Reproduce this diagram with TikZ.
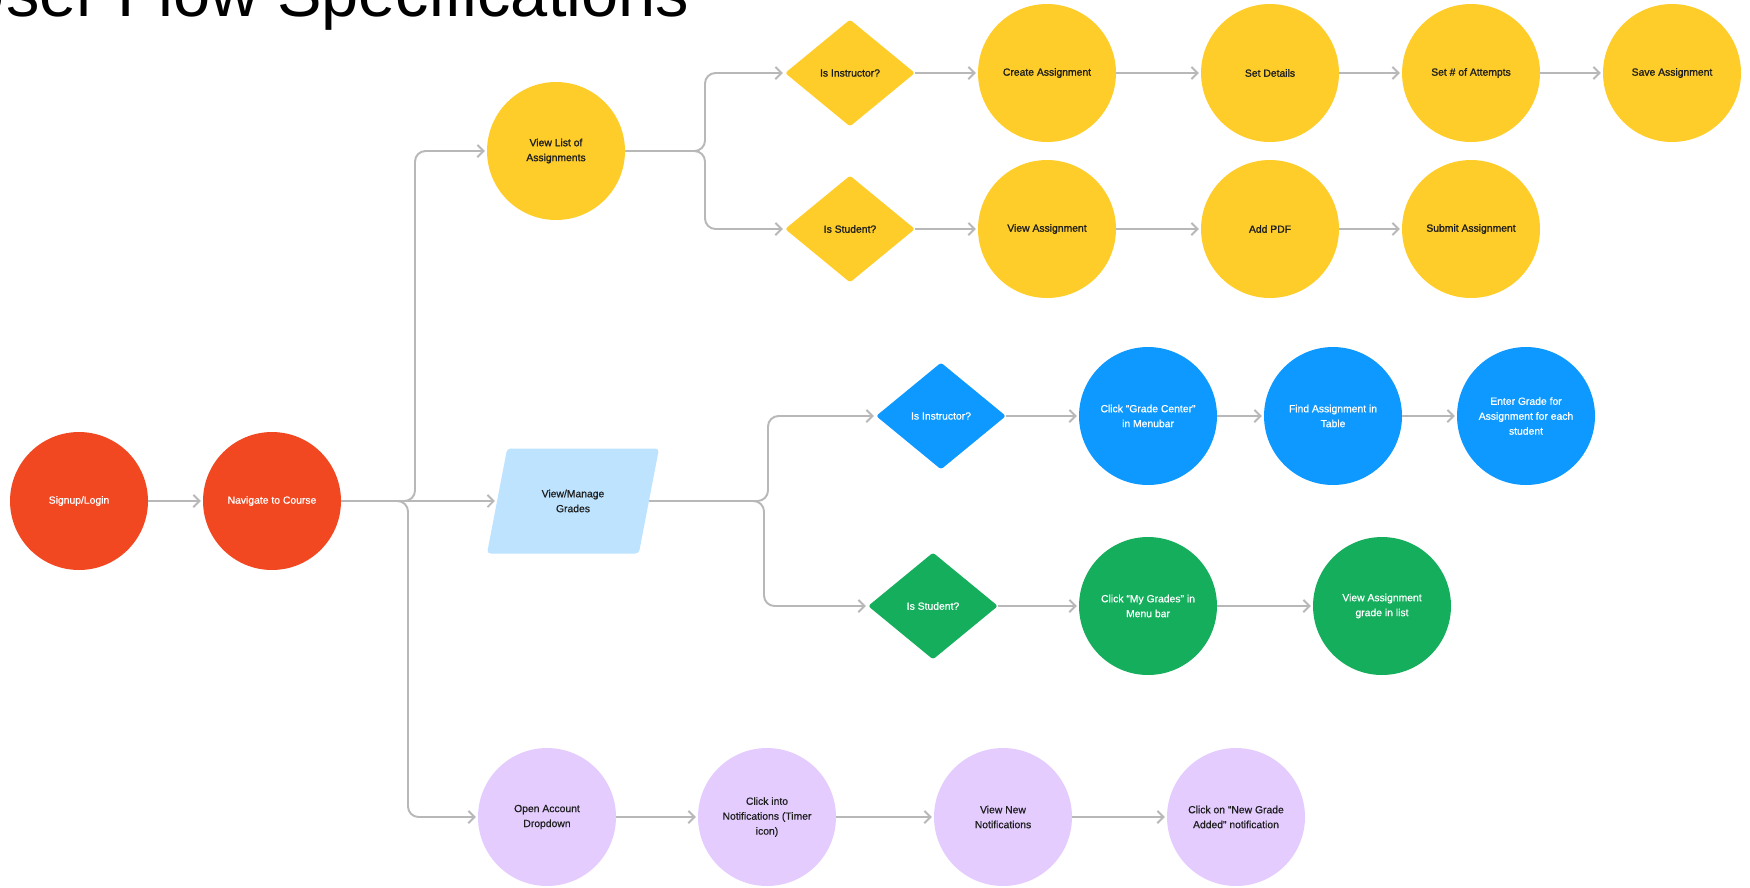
\documentclass[tikz,border=0pt]{standalone}
\usepackage{fontspec}
\setmainfont{Liberation Sans}
\newfontfamily\heavylabel[FakeBold=1.3]{Liberation Sans}
\newfontfamily\midlabel[FakeBold=0.6]{Liberation Sans}
\usetikzlibrary{arrows.meta,shapes.geometric}

\definecolor{flowred}{HTML}{F24822}
\definecolor{flowyellow}{HTML}{FFCD29}
\definecolor{flowblue}{HTML}{0D99FF}
\definecolor{flowgreen}{HTML}{14AE5C}
\definecolor{flowsky}{HTML}{BDE3FF}
\definecolor{flowlilac}{HTML}{E4CCFF}
\definecolor{flowline}{HTML}{B8B8B8}
\definecolor{flowink}{HTML}{1E1E1E}

\tikzset{
	label font/.style={font=\midlabel\fontsize{5.9}{8.5}\selectfont},
	stage/.style={circle, minimum size=2.76cm, inner sep=1pt, align=center, label font},
	choice/.style={diamond, minimum width=2.6cm, minimum height=2.14cm, inner sep=0pt, align=center, rounded corners=1.5pt, label font},
	hot/.style={fill=flowred, text=white},
	sun/.style={fill=flowyellow, text=flowink, font=\heavylabel\fontsize{5.9}{8.5}\selectfont},
	sea/.style={fill=flowblue, text=white},
	leaf/.style={fill=flowgreen, text=white},
	lilac/.style={fill=flowlilac, text=flowink},
	flow/.style={draw=flowline, line width=1.1pt, rounded corners=6pt, shorten >=1pt, -{Straight Barb[length=3.5pt,width=7pt]}}
}

\begin{document}
\begin{tikzpicture}[x=0.02cm, y=-0.02cm]
		%%%%% START %%%%%
		
		\useasboundingbox[fill=white] (0, 0) rectangle (1750, 887);
		\node[anchor=base west, font=\fontsize{38}{40}\selectfont] (title) at (-48, 16) {User Flow Specifications};
		
		\node[stage, hot] (signup) at (79, 501) {Signup/Login};
		\node[stage, hot] (navigate) at (272, 501) {Navigate to Course};
		
		\node[stage, sun] (list) at (556, 151) {View List of\\Assignments};
		\node[trapezium, trapezium left angle=71.6, trapezium right angle=108.4, trapezium stretches=true, minimum width=3.46cm, minimum height=2.1cm, rounded corners=2pt, fill=flowsky, text=flowink, align=center, label font] (grades) at (573, 501) {View/Manage\\Grades};
		\node[stage, lilac] (account) at (547, 817) {Open Account\\Dropdown};
		
		\node[choice, sun] (instrA) at (850, 73) {Is Instructor?};
		\node[stage, sun] (create) at (1047, 73) {Create Assignment};
		\node[stage, sun] (details) at (1270, 73) {Set Details};
		\node[stage, sun] (attempts) at (1471, 73) {Set \# of Attempts};
		\node[stage, sun] (save) at (1672, 73) {Save Assignment};
		
		\node[choice, sun] (studA) at (850, 229) {Is Student?};
		\node[stage, sun] (viewasg) at (1047, 229) {View Assignment};
		\node[stage, sun] (addpdf) at (1270, 229) {Add PDF};
		\node[stage, sun] (submit) at (1471, 229) {Submit Assignment};
		
		\node[choice, sea] (instrB) at (941, 416) {Is Instructor?};
		\node[stage, sea] (gcenter) at (1148, 416) {Click “Grade Center”\\in Menubar};
		\node[stage, sea] (findasg) at (1333, 416) {Find Assignment in\\Table};
		\node[stage, sea] (enter) at (1526, 416) {Enter Grade for\\Assignment for each\\student};
		
		\node[choice, leaf] (studB) at (933, 606) {Is Student?};
		\node[stage, leaf] (mygrades) at (1148, 606) {Click “My Grades” in\\Menu bar};
		\node[stage, leaf] (gradelist) at (1382, 606) {View Assignment\\grade in list};
		
		\node[stage, lilac] (notif) at (767, 817) {Click into\\Notifications (Timer\\icon)};
		\node[stage, lilac] (newnotif) at (1003, 817) {View New\\Notifications};
		\node[stage, lilac] (clicknew) at (1236, 817) {Click on “New Grade\\Added” notification};
		
		\coordinate (navup) at (415, 501);
		\coordinate (navdown) at (408, 501);
		\coordinate (listfork) at (705, 151);
		\coordinate (gradeup) at (768, 501);
		\coordinate (gradedown) at (764, 501);
		
		\draw[flow] (signup) -- (navigate);
		\draw[flow] (navigate.east) -| (navup |- list.west) -- (list.west);
		\draw[flow] (navigate) -- (grades);
		\draw[flow] (navigate.east) -| (navdown |- account.west) -- (account.west);
		
		\draw[flow] (list.east) -| (listfork |- instrA.west) -- (instrA.west);
		\draw[flow] (list.east) -| (listfork |- studA.west) -- (studA.west);
		\draw[flow] (instrA) -- (create);
		\draw[flow] (create) -- (details);
		\draw[flow] (details) -- (attempts);
		\draw[flow] (attempts) -- (save);
		\draw[flow] (studA) -- (viewasg);
		\draw[flow] (viewasg) -- (addpdf);
		\draw[flow] (addpdf) -- (submit);
		
		\draw[flow] (grades.east) -| (gradeup |- instrB.west) -- (instrB.west);
		\draw[flow] (grades.east) -| (gradedown |- studB.west) -- (studB.west);
		\draw[flow] (instrB) -- (gcenter);
		\draw[flow] (gcenter) -- (findasg);
		\draw[flow] (findasg) -- (enter);
		\draw[flow] (studB) -- (mygrades);
		\draw[flow] (mygrades) -- (gradelist);
		
		\draw[flow] (account) -- (notif);
		\draw[flow] (notif) -- (newnotif);
		\draw[flow] (newnotif) -- (clicknew);
		
		%%%%% END %%%%%
	\end{tikzpicture}
\end{document}
